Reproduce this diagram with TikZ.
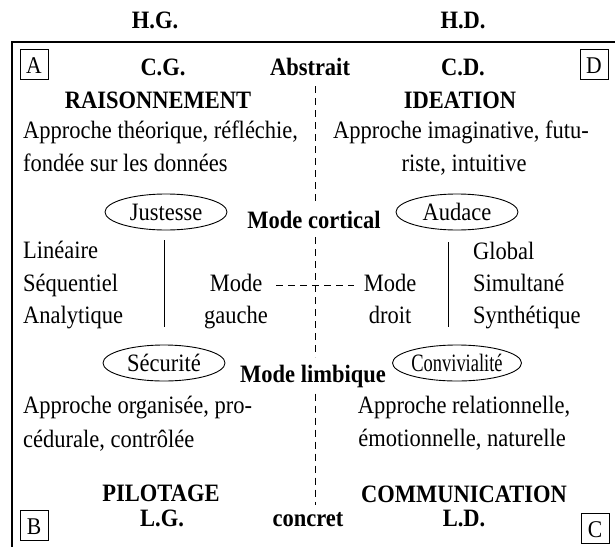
\documentclass[tikz,border=0pt]{standalone}
\usepackage{fontspec}
\setmainfont{Liberation Serif}[FakeStretch=0.9]
\usetikzlibrary{shapes.geometric}
\begin{document}
\begin{tikzpicture}[x=1pt,y=-1pt,
  txt/.style={font=\fontsize{25}{30}\selectfont, inner sep=0pt},
  bld/.style={font=\fontsize{25}{30}\selectfont\bfseries, inner sep=0pt},
  ell/.style={draw, ellipse, minimum width=122pt, minimum height=36pt, inner sep=0pt, line width=0.9pt, font=\fontsize{25}{30}\selectfont, text height=16.5pt, text depth=0pt},
  lbox/.style={draw, line width=0.8pt, font=\fontsize{24}{28}\selectfont, text height=18pt, text depth=0pt, inner ysep=6pt, inner xsep=0pt, minimum width=28pt},
  dashline/.style={line width=0.8pt, dash pattern=on 7pt off 5pt},
  solidline/.style={line width=0.9pt},
  framestyle/.style={line width=1.1pt}]
\useasboundingbox (0,0) rectangle (615,546);
\fill[white] (0,0) rectangle (615,546);
% frame (right and bottom sides fall outside the picture)
\draw[framestyle] (12,42) rectangle (630,560);
% top labels
\node[bld, anchor=base] (hg) at (155,28) {H.G.};
\node[bld, anchor=base] (hd) at (463,28) {H.D.};
\node[lbox, anchor=base] (boxA) at (34,73) {A};
\node[lbox, anchor=base] (boxD) at (594,73) {D};
\node[bld, anchor=base] (cg) at (163,75) {C.G.};
\node[bld, anchor=base] (abs) at (310,75) {Abstrait};
\node[bld, anchor=base] (cd) at (463,75) {C.D.};
\node[bld, anchor=base] (rais) at (158,108) {RAISONNEMENT};
\node[bld, anchor=base] (idea) at (460,108) {IDEATION};
\node[txt, anchor=base west] (tl1) at (23,138) {Approche théorique, réfléchie,};
\node[txt, anchor=base west] (tl2) at (23,171.5) {fondée sur les données};
\node[txt, anchor=base] (tr1) at (461,138) {Approche imaginative, futu-};
\node[txt, anchor=base] (tr2) at (464,171.5) {riste, intuitive};
% cortical mode
\node[ell] (just) at (166,212) {Justesse};
\node[ell] (aud) at (457,212) {Audace};
\node[bld, anchor=base] (cort) at (314,228) {Mode cortical};
% middle lists
\node[txt, anchor=base west] (lin) at (23,258) {Linéaire};
\node[txt, anchor=base west] (seq) at (23,291) {Séquentiel};
\node[txt, anchor=base west] (ana) at (23,323) {Analytique};
\node[txt, anchor=base] (mg1) at (236,291) {Mode};
\node[txt, anchor=base] (mg2) at (236,323) {gauche};
\node[txt, anchor=base] (md1) at (390,291) {Mode};
\node[txt, anchor=base] (md2) at (390,323) {droit};
\node[txt, anchor=base west] (glo) at (473,259) {Global};
\node[txt, anchor=base west] (sim) at (473,291) {Simultané};
\node[txt, anchor=base west] (syn) at (473,323) {Synthétique};
\coordinate (sl1) at (164,240);
\coordinate (sl2) at (164,327);
\coordinate (sr1) at (448,242);
\coordinate (sr2) at (448,327);
\draw[solidline] (sl1) -- (sl2);
\draw[solidline] (sr1) -- (sr2);
\draw[dashline] ([xshift=14pt,yshift=-3pt]mg1.east) -- ([xshift=-10pt,yshift=-3pt]md1.west);
% limbic mode
\node[ell] (sec) at (164,363) {Sécurité};
\node[ell] (conv) at (457,363) {\scalebox{0.82}[1]{Convivialité}};
\node[bld, anchor=base] (limb) at (313,382) {Mode limbique};
\node[txt, anchor=base west] (bl1) at (23,413) {Approche organisée, pro-};
\node[txt, anchor=base west] (bl2) at (23,447) {cédurale, contrôlée};
\node[txt, anchor=base] (br1) at (464,413) {Approche relationnelle,};
\node[txt, anchor=base] (br2) at (462,446) {émotionnelle, naturelle};
% bottom labels
\node[bld, anchor=base] (pil) at (161,501) {PILOTAGE};
\node[bld, anchor=base] (comm) at (464,502) {COMMUNICATION};
\node[lbox, anchor=base] (boxB) at (34,534) {B};
\node[lbox, anchor=base] (boxC) at (595,537) {C};
\node[bld, anchor=base] (lg) at (162,526) {L.G.};
\node[bld, anchor=base] (conc) at (308,526) {concret};
\node[bld, anchor=base] (ld) at (464,526) {L.D.};
% vertical dashed axis
\coordinate (vx) at (315,0);
\draw[dashline] ([yshift=-11pt]abs.south -| vx) -- ([yshift=7pt]cort.north -| vx);
\draw[dashline] ([yshift=-9pt]cort.south -| vx) -- ([yshift=7pt]limb.north -| vx);
\draw[dashline] ([yshift=-6pt]limb.south -| vx) -- ([yshift=7pt]conc.north -| vx);
\end{tikzpicture}
\end{document}
